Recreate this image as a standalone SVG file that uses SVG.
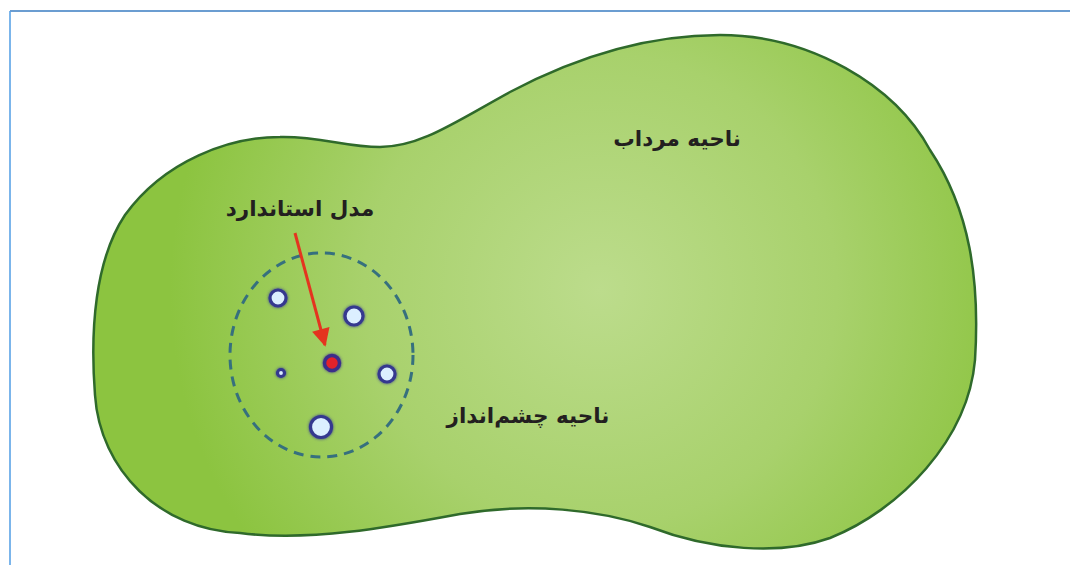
<svg xmlns="http://www.w3.org/2000/svg" width="1070" height="565" viewBox="0 0 1070 565">
<style>
.lbl{font-family:"DejaVu Sans","Noto Sans",sans-serif;font-weight:bold;font-size:21.5px;fill:#231f20;text-anchor:middle}
.pt{fill:#dcefff;stroke:#34398f;stroke-width:3.2;filter:url(#glow)}
</style>
<defs>
<radialGradient id="g" cx="600" cy="290" r="430" gradientUnits="userSpaceOnUse">
<stop offset="0" stop-color="#bcdc8c"/>
<stop offset="0.55" stop-color="#a8d16c"/>
<stop offset="1" stop-color="#8cc440"/>
</radialGradient>
<filter id="glow" x="-1" y="-1" width="3" height="3">
<feGaussianBlur in="SourceGraphic" stdDeviation="1.6" result="b"/>
<feMerge><feMergeNode in="b"/><feMergeNode in="SourceGraphic"/></feMerge>
</filter>
<marker id="ah" viewBox="0 0 10 10" refX="9" refY="5" markerWidth="7" markerHeight="6" orient="auto" markerUnits="strokeWidth">
<path d="M0,0 L10,5 L0,10 Z" fill="#e4341f"/>
</marker>
</defs>
<rect width="1070" height="565" fill="#fff"/>
<g id="frame">
<line x1="10" y1="11" x2="1070" y2="11" stroke="#3a7cc2" stroke-width="1.6"/>
<line x1="10" y1="11" x2="10" y2="565" stroke="#5aa3e6" stroke-width="1.6"/>
</g>
<g id="region">
<path d="M280 137 C320 136 345 147 380 147 C420 147 455 122 510 92 C580 55 650 35 720 35 C810 35 895 85 930 150 C970 210 980 280 975 360 C968 440 900 510 830 538 C780 556 710 550 650 527 C600 510 530 502 460 514 C390 527 310 542 240 533 C160 530 100 470 95 395 C90 330 95 260 125 215 C165 160 230 137 280 137 Z" fill="url(#g)" stroke="#2f6a2b" stroke-width="2.5"/>
</g>
<g id="view">
<ellipse cx="321.5" cy="355" rx="91.5" ry="102" fill="none" stroke="#36707e" stroke-width="3" stroke-dasharray="10 7"/>
</g>
<g id="points">
<circle class="pt" cx="278" cy="298" r="8"/>
<circle class="pt" cx="354" cy="316" r="9"/>
<circle class="pt" cx="281" cy="373" r="3.5"/>
<circle class="pt" cx="387" cy="374" r="8"/>
<circle class="pt" cx="321" cy="427" r="10.5"/>
<circle id="standard" cx="332" cy="363" r="7.5" fill="#e3202a" stroke="#3b2f8a" stroke-width="3.5" filter="url(#glow)"/>
</g>
<g id="connectors">
<line x1="295" y1="233" x2="325" y2="345" stroke="#e4341f" stroke-width="3" marker-end="url(#ah)"/>
</g>
<g id="labels">
<text class="lbl" x="300" y="216" direction="rtl">مدل استاندارد</text>
<text class="lbl" x="677" y="146" direction="rtl">ناحیه مرداب</text>
<text class="lbl" x="528" y="423" direction="rtl">ناحیه چشم‌انداز</text>
</g>
</svg>
